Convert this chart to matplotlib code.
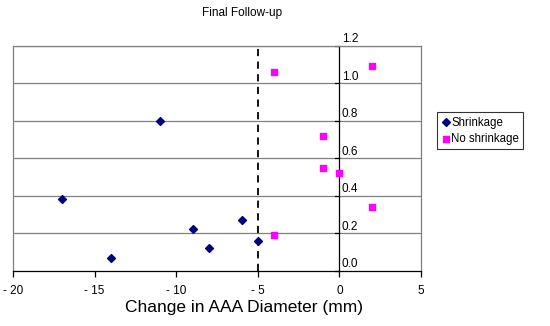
import matplotlib
matplotlib.use('Agg')
import matplotlib.pyplot as plt

plt.rcParams['font.family'] = ['Liberation Sans', 'DejaVu Sans']

# data
shrink_x = [-11, -17, -14, -9, -8, -6, -5]
shrink_y = [0.80, 0.38, 0.07, 0.22, 0.12, 0.27, 0.16]
noshrink_x = [-4, 2, -1, -1, 0, 2, -4]
noshrink_y = [1.06, 1.09, 0.72, 0.55, 0.52, 0.34, 0.19]
x_ticks = [-20, -15, -10, -5, 0, 5]
y_ticks = [0.0, 0.2, 0.4, 0.6, 0.8, 1.0, 1.2]
cutoff = -5

fig = plt.figure(figsize=(5.5, 3.26), dpi=100, facecolor='white')
ax = fig.add_axes([0.0236, 0.1696, 0.742, 0.690])
ax.set_xlim(-20, 5)
ax.set_ylim(0, 1.2)

# gridlines
for yv in y_ticks[1:]:
    ax.axhline(yv, color='#808080', lw=0.9, zorder=1)

# frame
for side in ['top', 'right', 'left']:
    ax.spines[side].set_color('#808080')
    ax.spines[side].set_linewidth(0.9)
ax.spines['bottom'].set_color('black')
ax.spines['bottom'].set_linewidth(0.9)

# y axis drawn at x = 0
ax.axvline(0, color='black', lw=0.9, zorder=2)
for yv in y_ticks:
    ax.plot([-0.25, 0], [yv, yv], color='black', lw=0.9, zorder=2, clip_on=False)
    ax.text(0.15, yv + 0.035, f"{yv:.1f}", fontsize=8.5, ha='left', va='center', zorder=3)
ax.set_yticks([])

# x ticks
ax.set_xticks(x_ticks)
ax.set_xticklabels([f"- {abs(v)}" if v < 0 else str(v) for v in x_ticks], fontsize=8.5)
ax.tick_params(axis='x', direction='out', length=4, width=0.9, pad=6)

# dashed cutoff line
ax.axvline(cutoff, color='black', lw=1.3, ls=(0, (4, 3)), zorder=2)

ax.scatter(shrink_x, shrink_y, marker='D', s=16, color='#000080', label='Shrinkage', zorder=4, clip_on=False)
ax.scatter(noshrink_x, noshrink_y, marker='s', s=20, color='#FF00FF', label='No shrinkage', zorder=4, clip_on=False)

ax.set_xlabel('Change in AAA Diameter (mm)', fontsize=12.5, labelpad=4)
ax.xaxis.set_label_coords(0.566, -0.13)
fig.text(0.44, 0.96, 'Final Follow-up', fontsize=8.5, ha='center', va='center')

leg = fig.legend(loc='upper left', bbox_to_anchor=(0.794, 0.655), fontsize=8.3,
                 frameon=True, fancybox=False, edgecolor='black', handletextpad=0.0,
                 handlelength=0.9, borderpad=0.35, labelspacing=0.35, borderaxespad=0)
leg.get_frame().set_linewidth(0.8)

fig.savefig('out.png', dpi=100, facecolor='white')
